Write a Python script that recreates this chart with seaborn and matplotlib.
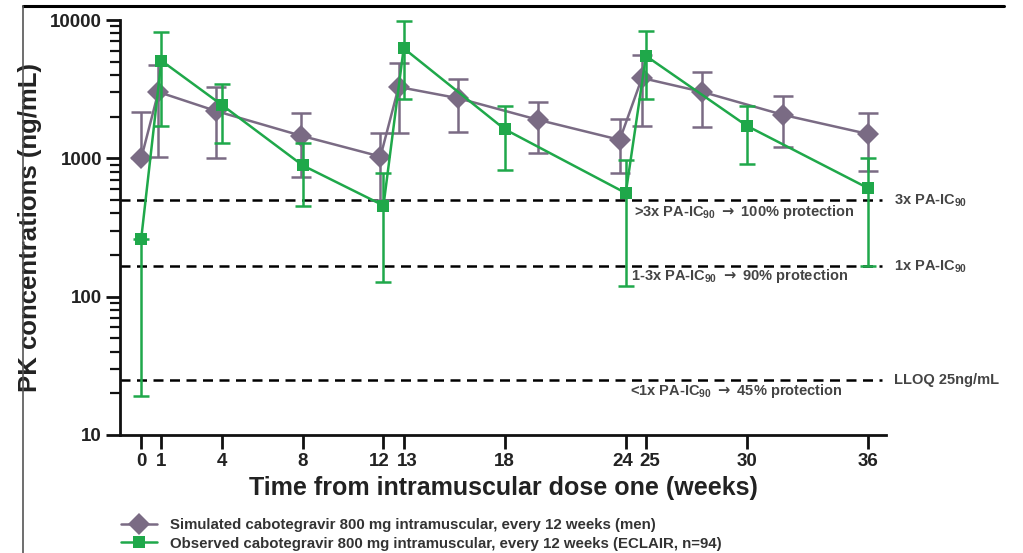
import numpy as np
import pandas as pd
import matplotlib
matplotlib.use("Agg")
import matplotlib.pyplot as plt
import seaborn as sns
from matplotlib.lines import Line2D
from matplotlib.ticker import LogLocator, NullFormatter, FixedLocator
from matplotlib.transforms import ScaledTranslation

# simulated (men), q12w 800 mg
sim_weeks = [0, 0.85, 3.7, 7.9, 11.85, 12.75, 15.7, 19.65, 23.7, 24.8, 27.8, 31.8, 36]
sim_conc = [1000, 3020, 2200, 1460, 1030, 3280, 2720, 1900, 1360, 3810, 3020, 2060, 1500]
sim_hi = [2170, 4730, 3280, 2120, 1520, 4870, 3750, 2560, 1930, 5590, 4210, 2830, 2130]
sim_lo = [1000, 1030, 1010, 731, 500, 1530, 1550, 1100, 785, 1717, 1690, 1210, 813]

# observed ECLAIR
obs_weeks = [0, 1, 4, 8, 12, 13, 18, 24, 25, 30, 36]
obs_conc = [262, 5080, 2430, 889, 456, 6250, 1625, 561, 5500, 1717, 609]
obs_hi = [262, 8150, 3440, 1300, 790, 9840, 2404, 975, 8370, 2390, 1010]
obs_lo = [19, 1725, 1300, 455, 128, 2675, 817, 119, 2675, 912, 168]

x_ticks = [0, 1, 4, 8, 12, 13, 18, 24, 25, 30, 36]
ref_levels = [497, 166, 25]
ref_labels = [r"3x PA-IC$_{\mathbf{90}}$", r"1x PA-IC$_{\mathbf{90}}$", "LLOQ 25ng/mL"]
zone_labels = [r">3x PA-IC$_{\mathbf{90}}$ $\mathsf{\rightarrow}$ 100% protection",
               r"1-3x PA-IC$_{\mathbf{90}}$ $\mathsf{\rightarrow}$ 90% protection",
               r"<1x PA-IC$_{\mathbf{90}}$ $\mathsf{\rightarrow}$ 45% protection"]
zone_x = [29.9, 29.65, 29.5]
zone_y = [410, 140, 20.7]

sim_col = "#7a6b84"
obs_col = "#1fa84a"

sns.set_style("ticks")
plt.rcParams['font.family'] = ['Liberation Sans', 'DejaVu Sans']
plt.rcParams['mathtext.fontset'] = 'custom'
plt.rcParams['mathtext.rm'] = 'Liberation Sans'
plt.rcParams['mathtext.bf'] = 'Liberation Sans:bold'
plt.rcParams['mathtext.sf'] = 'DejaVu Sans:bold'

sim = pd.DataFrame({"week": sim_weeks, "conc": sim_conc})
obs = pd.DataFrame({"week": obs_weeks, "conc": obs_conc})

fig = plt.figure(figsize=(10.23, 5.53), dpi=100)
ax = fig.add_axes([0.1173, 0.2134, 0.749, 0.7504])

for lvl in ref_levels:
    ax.axhline(lvl, color="black", lw=1.8, ls=(0, (4, 2.6)), xmax=0.995, zorder=1)

ax.errorbar(sim_weeks, sim_conc,
            yerr=[np.array(sim_conc) - np.array(sim_lo), np.array(sim_hi) - np.array(sim_conc)],
            fmt="none", ecolor=sim_col, elinewidth=1.8, capsize=7, capthick=1.8, zorder=2)
sns.lineplot(data=sim, x="week", y="conc", ax=ax, color=sim_col, lw=1.8,
             marker="D", markersize=11, markeredgewidth=0, zorder=3)

ax.errorbar(obs_weeks, obs_conc,
            yerr=[np.array(obs_conc) - np.array(obs_lo), np.array(obs_hi) - np.array(obs_conc)],
            fmt="none", ecolor=obs_col, elinewidth=1.8, capsize=6, capthick=1.8, zorder=4)
sns.lineplot(data=obs, x="week", y="conc", ax=ax, color=obs_col, lw=1.8,
             marker="s", markersize=9, markeredgewidth=0, zorder=5)

ax.set_yscale("log")
ax.set_ylim(10, 10000)
ax.set_xlim(-1.05, 36.9)
ax.yaxis.set_minor_locator(LogLocator(base=10, subs=np.arange(2, 10), numticks=20))
ax.yaxis.set_minor_formatter(NullFormatter())
ax.set_yticks([10, 100, 1000, 10000])
ax.set_yticklabels(["10", "100", "1000", "10000"])
ax.xaxis.set_major_locator(FixedLocator(x_ticks))
ax.set_xticklabels([str(t) for t in x_ticks])

sns.despine(ax=ax)
for s in ["left", "bottom"]:
    ax.spines[s].set_linewidth(2)
    ax.spines[s].set_color("#111111")
ax.tick_params(axis="both", which="major", length=10, width=2, color="#111111",
               labelsize=13.5, pad=3)
ax.tick_params(axis="y", which="minor", length=7, width=1.6, color="#111111")
for lab in ax.get_xticklabels() + ax.get_yticklabels():
    lab.set_fontweight("bold")
    lab.set_color("#222222")

# nudge crowded tick labels apart like the original
nudge = {"12": -4, "13": 4, "24": -3, "25": 4}
for lab in ax.get_xticklabels():
    dx = nudge.get(lab.get_text(), 0)
    if dx:
        lab.set_transform(lab.get_transform() + ScaledTranslation(dx / 100, 0, fig.dpi_scale_trans))

ax.set_xlabel("Time from intramuscular dose one (weeks)", fontsize=18, fontweight="bold",
              color="#222222", labelpad=4)
ax.set_ylabel("PK concentrations (ng/mL)", fontsize=18.5, fontweight="bold",
              color="#222222", labelpad=6)

for lvl, lab in zip(ref_levels, ref_labels):
    ax.text(1.01, lvl, lab, transform=ax.get_yaxis_transform(), fontsize=10.5,
            fontweight="bold", color="#444444", va="center", ha="left", clip_on=False)
for x, y, lab in zip(zone_x, zone_y, zone_labels):
    ax.text(x, y, lab, fontsize=10.5, fontweight="bold", color="#444444",
            ha="center", va="center")

handles = [Line2D([], [], color=sim_col, lw=1.8, marker="D", markersize=11, markeredgewidth=0),
           Line2D([], [], color=obs_col, lw=1.8, marker="s", markersize=9, markeredgewidth=0)]
labels = ["Simulated cabotegravir 800 mg intramuscular, every 12 weeks (men)",
          "Observed cabotegravir 800 mg intramuscular, every 12 weeks (ECLAIR, n=94)"]
leg = fig.legend(handles, labels, loc="upper left", bbox_to_anchor=(0.108, 0.082),
                 frameon=False, handlelength=2.4, handletextpad=0.9, labelspacing=0.3,
                 borderpad=0.2, prop={"size": 10.8, "weight": "bold"})
for t in leg.get_texts():
    t.set_color("#333333")

# partial frame around figure
fig.add_artist(Line2D([0.0225, 0.981], [0.989, 0.989], color="black", lw=2.2))
fig.add_artist(Line2D([0.0225, 0.0225], [0.0, 0.989], color="#555555", lw=1.2))

fig.savefig("out.png", dpi=100)
